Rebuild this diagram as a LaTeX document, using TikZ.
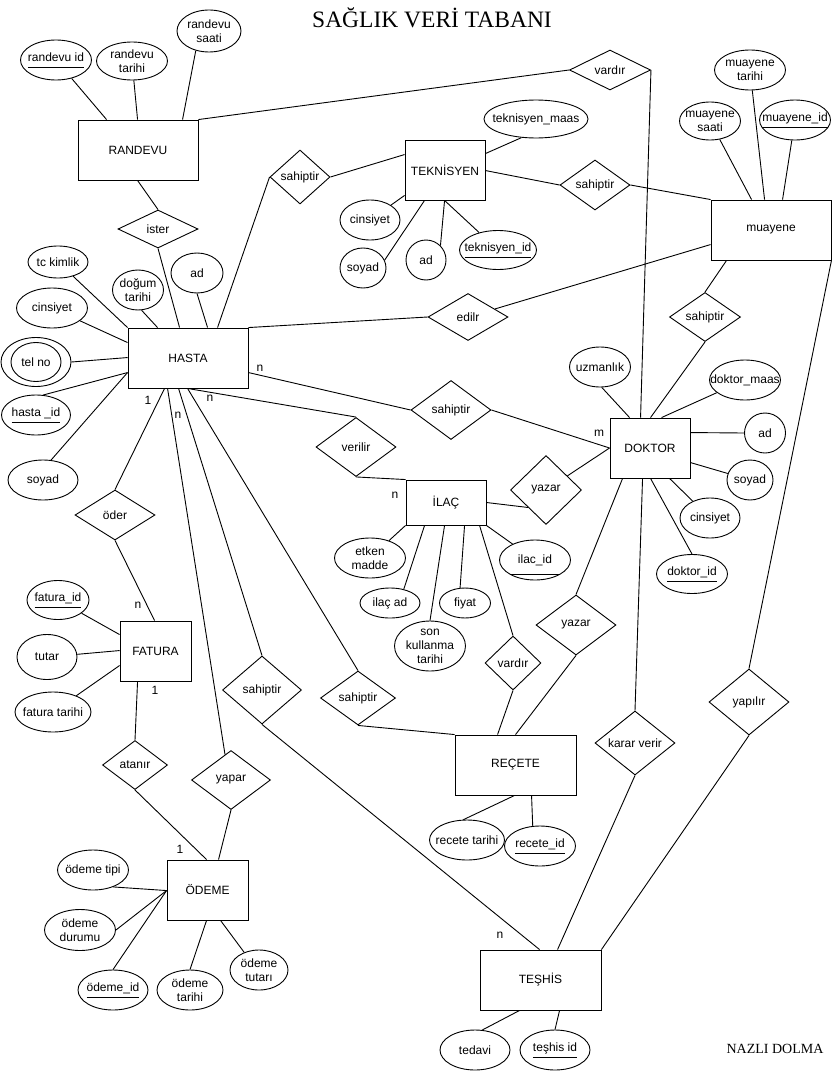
\documentclass[tikz,border=0pt]{standalone}
\usepackage{fontspec}
\setmainfont{Liberation Sans}
\newfontfamily\serifff{Liberation Serif}
\usetikzlibrary{shapes.geometric,calc}
\newcommand\ul[1]{$\underline{\raisebox{0pt}[\height][4.5pt]{#1}}$}
\begin{document}
\begin{tikzpicture}[x=1pt,y=-1pt, line width=0.9pt, font=\fontsize{12}{14}\selectfont,
 ent/.style n args={2}{draw, rectangle, minimum width=#1, minimum height=#2, inner sep=0pt},
 attr/.style n args={3}{draw, ellipse, minimum width=#1, minimum height=#2, inner sep=0pt, label={[lab]center:#3}},
 rel/.style n args={3}{draw, diamond, minimum width=#1, minimum height=#2, inner sep=0pt, label={[lab]center:#3}},
 lab/.style={align=center, inner sep=0pt, font=\fontsize{12}{14}\selectfont},
 card/.style={inner sep=0pt, font=\fontsize{12}{14}\selectfont}]
\path[fill=white] (0,0) rectangle (836,1081);

% titles
\node[anchor=base, inner sep=0pt, font=\serifff\fontsize{23.5}{26}\selectfont] (title) at (432,28) {SAĞLIK VERİ TABANI};
\node[anchor=base, inner sep=0pt, font=\serifff\fontsize{14}{16}\selectfont] (author) at (775,1053) {NAZLI DOLMA};

% entities
\node[ent={120}{60}] (rand) at (138,150) {RANDEVU};
\node[ent={80}{60}] (tekn) at (445,170) {TEKNİSYEN};
\node[ent={120}{60}] (muay) at (771,230) {muayene};
\node[ent={120}{60}] (hasta) at (188,358) {HASTA};
\node[ent={80}{60}] (dok) at (650,448) {DOKTOR};
\node[ent={80}{45}] (ilac) at (446,502.5) {İLAÇ};
\node[ent={71}{60}] (fat) at (155.5,651) {FATURA};
\node[ent={121}{60}] (rec) at (515.5,765) {REÇETE};
\node[ent={81}{60}] (ode) at (207.5,890) {ÖDEME};
\node[ent={121}{60}] (tes) at (540.5,980) {TEŞHİS};

% relationships
\node[rel={81}{40}{vardır}] (r_vardir1) at (610,70) {};
\node[rel={60}{54}{sahiptir}] (r_sah1) at (300,177) {};
\node[rel={70}{50}{sahiptir}] (r_sah2) at (595,185) {};
\node[rel={80}{38}{ister}] (r_ister) at (158,229) {};
\node[rel={80}{47}{edilr}] (r_edilr) at (468,317) {};
\node[rel={80}{59}{sahiptir}] (r_sah3) at (451,410) {};
\node[rel={80}{59}{verilir}] (r_verilir) at (356,447) {};
\node[rel={71}{69}{yazar}] (r_yazar1) at (546,490) {};
\node[rel={71}{49}{sahiptir}] (r_sah4) at (705,317) {};
\node[rel={80}{50}{öder}] (r_oder) at (115,515) {};
\node[rel={80}{60}{yazar}] (r_yazar2) at (576,625) {};
\node[rel={56}{54}{vardır}] (r_vardir2) at (513,663) {};
\node[rel={75}{54}{sahiptir}] (r_sah5) at (358,698) {};
\node[rel={79}{68}{sahiptir}] (r_sah6) at (262,690) {};
\node[rel={65}{49}{atanır}] (r_atanir) at (135,765) {};
\node[rel={79}{59}{yapar}] (r_yapar) at (231,780) {};
\node[rel={80}{64}{karar verir}] (r_karar) at (635,743) {};
\node[rel={80}{66}{yapılır}] (r_yapilir) at (749,702) {};

% attributes
\node[attr={71}{40}{\ul{randevu id}}] (a_rid) at (56,60) {};
\node[attr={71}{38}{randevu\\tarihi}] (a_rtar) at (132,61) {};
\node[attr={64}{42}{randevu\\saati}] (a_rsaat) at (209,31) {};
\node[attr={104}{38}{teknisyen\_maas}] (a_tmaas) at (536,119) {};
\node[attr={71}{40}{muayene\\tarihi}] (a_mtar) at (750,70) {};
\node[attr={61}{38}{muayene\\saati}] (a_msaat) at (710,121) {};
\node[attr={71}{40}{\ul{muayene\_id}}] (a_mid) at (795,120) {};
\node[attr={60}{40}{cinsiyet}] (a_tcins) at (370,220) {};
\node[attr={46}{40}{soyad}] (a_tsoy) at (363,268) {};
\node[attr={40}{40}{ad}] (a_tad) at (426,260) {};
\node[attr={77}{39}{\ul{teknisyen\_id}}] (a_tid) at (498,250) {};
\node[attr={60}{32}{tc kimlik}] (a_tc) at (58,262) {};
\node[attr={51}{40}{doğum\\tarihi}] (a_dog) at (138,290) {};
\node[attr={52}{40}{ad}] (a_had) at (197,273) {};
\node[attr={71}{40}{cinsiyet}] (a_hcins) at (52,308) {};
\node[draw, ellipse, minimum width=70, minimum height=49, inner sep=0pt] (a_tel) at (36,362) {};
\node[attr={50}{39}{tel no}] (a_telin) at (36,362) {};
\node[attr={69}{40}{\ul{hasta \_id}}] (a_hid) at (36,415) {};
\node[attr={70}{40}{soyad}] (a_hsoy) at (43,480) {};
\node[attr={61}{40}{uzmanlık}] (a_uzm) at (600,367) {};
\node[attr={71}{40}{doktor\_maas}] (a_dmaas) at (745,380) {};
\node[attr={41}{40}{ad}] (a_dad) at (765,433) {};
\node[attr={46}{40}{soyad}] (a_dsoy) at (750,480) {};
\node[attr={60}{40}{cinsiyet}] (a_dcins) at (710,518) {};
\node[attr={71}{39}{\ul{doktor\_id}}] (a_did) at (692,574) {};
\node[attr={71}{40}{etken\\madde}] (a_etken) at (370,558) {};
\node[attr={60}{30}{ilaç ad}] (a_ilacad) at (390,603) {};
\node[attr={51}{30}{fiyat}] (a_fiyat) at (465,603) {};
\node[attr={71}{50}{son\\kullanma\\tarihi}] (a_son) at (430,646) {};
\node[attr={71}{40}{ilac\_id}] (a_ilacid) at (535,560) {};
\node[attr={62}{39}{\ul{fatura\_id}}] (a_fid) at (58,600) {};
\node[attr={60}{45}{tutar}] (a_tutar) at (47,657) {};
\node[attr={76}{40}{fatura tarihi}] (a_ftar) at (53,712) {};
\node[attr={71}{40}{ödeme tipi}] (a_otip) at (93,870) {};
\node[attr={71}{41}{ödeme\\durumu}] (a_odur) at (80,930) {};
\node[attr={70}{40}{\ul{ödeme\_id}}] (a_oid) at (113,990) {};
\node[attr={66}{40}{ödeme\\tarihi}] (a_otar) at (190,990) {};
\node[attr={58}{40}{ödeme\\tutarı}] (a_otut) at (259,970) {};
\node[attr={75}{40}{recete tarihi}] (a_rtar2) at (467,840) {};
\node[attr={71}{40}{\ul{recete\_id}}] (a_recid) at (540,846) {};
\node[attr={70}{40}{tedavi}] (a_ted) at (475,1050) {};
\node[attr={70}{40}{\ul{teşhis id}}] (a_tesid) at (555,1050) {};
\draw ([shift={(-25.4,14)}]a_ilacid.center) -- ([shift={(25.4,14)}]a_ilacid.center);

% cardinalities
\node[card] (c1) at (260,368) {n};
\node[card] (c2) at (148,400) {1};
\node[card] (c3) at (178,415) {n};
\node[card] (c4) at (210,398) {n};
\node[card] (c5) at (599,433) {m};
\node[card] (c6) at (395,495) {n};
\node[card] (c7) at (138,605) {n};
\node[card] (c8) at (155,690) {1};
\node[card] (c9) at (180,849) {1};
\node[card] (c10) at (500,935) {n};

% RANDEVU
\draw (a_rid) -- ($(rand.north west)+(29,0)$);
\draw (a_rtar) -- ($(rand.north west)+(60,0)$);
\draw (a_rsaat.236) -- ($(rand.north west)+(105,0)$);
\draw (rand.north east) -- (r_vardir1.west);
\draw (r_vardir1.east) -- ($(dok.north west)+(31,0)$);
\draw ($(rand.south west)+(60,0)$) -- (r_ister.north);
\draw (r_ister.south) -- ($(hasta.north west)+(52,0)$);
% TEKNISYEN
\draw ($(hasta.north west)+(90,0)$) -- (r_sah1.west);
\draw (r_sah1.east) -- ($(tekn.north west)+(0,15)$);
\draw ($(tekn.north east)+(0,31)$) -- (r_sah2.west);
\draw (r_sah2.east) -- (muay.north west);
\draw (a_tmaas.232) -- ($(tekn.north east)+(0,14)$);
\draw ($(tekn.south west)+(0,-5)$) -- (a_tcins);
\draw ($(tekn.south west)+(20,0)$) -- (a_tsoy.20);
\draw ($(tekn.south west)+(40,0)$) -- (a_tad.45);
\draw ($(tekn.south west)+(40,0)$) -- (a_tid);
% muayene
\draw (a_msaat) -- ($(muay.north west)+(41,0)$);
\draw (a_mtar) -- ($(muay.north west)+(54,0)$);
\draw (a_mid) -- ($(muay.north west)+(72,0)$);
\draw (hasta.north east) -- (r_edilr.west);
\draw (r_edilr) -- ($(muay.north west)+(0,45)$);
\draw ($(muay.south west)+(16,0)$) -- (r_sah4.north);
\draw (r_sah4.south) -- ($(dok.north west)+(41,0)$);
\draw (muay.south east) -- (r_yapilir.north);
\draw (r_yapilir.south) -- (tes.north east);
% DOKTOR
\draw (a_uzm.-85) -- ($(dok.north west)+(20,0)$);
\draw (a_dmaas) -- ($(dok.north west)+(52,0)$);
\draw ($(dok.north east)+(0,15)$) -- (a_dad.west);
\draw ($(dok.north east)+(0,45)$) -- (a_dsoy);
\draw ($(dok.south west)+(60,0)$) -- (a_dcins);
\draw ($(dok.south west)+(41,0)$) -- (a_did.north);
\draw ($(hasta.north east)+(0,45)$) -- (r_sah3.west);
\draw (r_sah3.east) -- (dok.west);
\draw (r_yazar1) -- (dok.west);
\draw (ilac.east) -- ($(r_yazar1.west)!0.5!(r_yazar1.south)$);
\draw ($(hasta.south west)+(60,0)$) -- (r_verilir.north);
\draw (r_verilir.south) -- (ilac.north west);
\draw ($(dok.south west)+(13,0)$) -- (r_yazar2.north);
\draw (r_yazar2.south) -- ($(rec.north west)+(61,0)$);
\draw ($(ilac.south west)+(74,0)$) -- (r_vardir2.north);
\draw (r_vardir2.south) -- ($(rec.north west)+(43,0)$);
\draw ($(dok.south west)+(33,0)$) -- (r_karar.north);
\draw (r_karar.south) -- ($(tes.north west)+(78,0)$);
% HASTA bottom
\draw ($(hasta.south west)+(37,0)$) -- (r_oder.north);
\draw ($(hasta.south west)+(40,0)$) -- ($(r_yapar.north)!0.15!(r_yapar.west)$);
\draw ($(hasta.south west)+(51,0)$) -- (r_sah6.north);
\draw ($(hasta.south west)+(60,0)$) -- (r_sah5.north);
\draw (r_sah5.south) -- (rec.north west);
\draw (r_sah6.south) -- ($(tes.north west)+(60,0)$);
% HASTA attributes
\draw (a_tc) -- (hasta.north west);
\draw (a_hcins) -- ($(hasta.north west)+(0,15)$);
\draw (a_tel.east) -- ($(hasta.north west)+(0,30)$);
\draw (a_hid.70) -- ($(hasta.north west)+(0,45)$);
\draw (a_hsoy.68) -- ($(hasta.north west)+(0,45)$);
\draw (a_dog.-80) -- ($(hasta.north west)+(30,0)$);
\draw (a_had.south) -- ($(hasta.north west)+(80,0)$);
% ILAC
\draw (ilac.south west) -- (a_etken);
\draw ($(ilac.south west)+(19,0)$) -- (a_ilacad.45);
\draw ($(ilac.south west)+(39,0)$) -- (a_son.north);
\draw ($(ilac.south west)+(59,0)$) -- (a_fiyat.108);
\draw (ilac.south east) -- (a_ilacid);
% FATURA
\draw (r_oder.south) -- ($(fat.north west)+(35,0)$);
\draw (a_fid) -- ($(fat.north west)+(0,14)$);
\draw (a_tutar) -- ($(fat.north west)+(0,30)$);
\draw (a_ftar) -- ($(fat.north west)+(0,45)$);
\draw ($(fat.south west)+(18,0)$) -- (r_atanir.north);
\draw (r_atanir.south) -- ($(ode.north west)+(40,0)$);
\draw (r_yapar.south) -- ($(ode.north west)+(52,0)$);
% ODEME
\draw (a_otip.-40) -- ($(ode.north west)+(0,31)$);
\draw (a_odur.east) -- ($(ode.north west)+(0,31)$);
\draw (a_oid.north) -- ($(ode.north west)+(0,31)$);
\draw ($(ode.south west)+(40,0)$) -- (a_otar.north);
\draw ($(ode.south west)+(54,0)$) -- (a_otut.130);
% RECETE / TESHIS
\draw ($(rec.south west)+(60,0)$) -- (a_rtar2.100);
\draw ($(rec.south west)+(77,0)$) -- (a_recid.110);
\draw ($(tes.south west)+(40,0)$) -- (a_ted.70);
\draw ($(tes.south west)+(80,0)$) -- (a_tesid.north);
\end{tikzpicture}
\end{document}
